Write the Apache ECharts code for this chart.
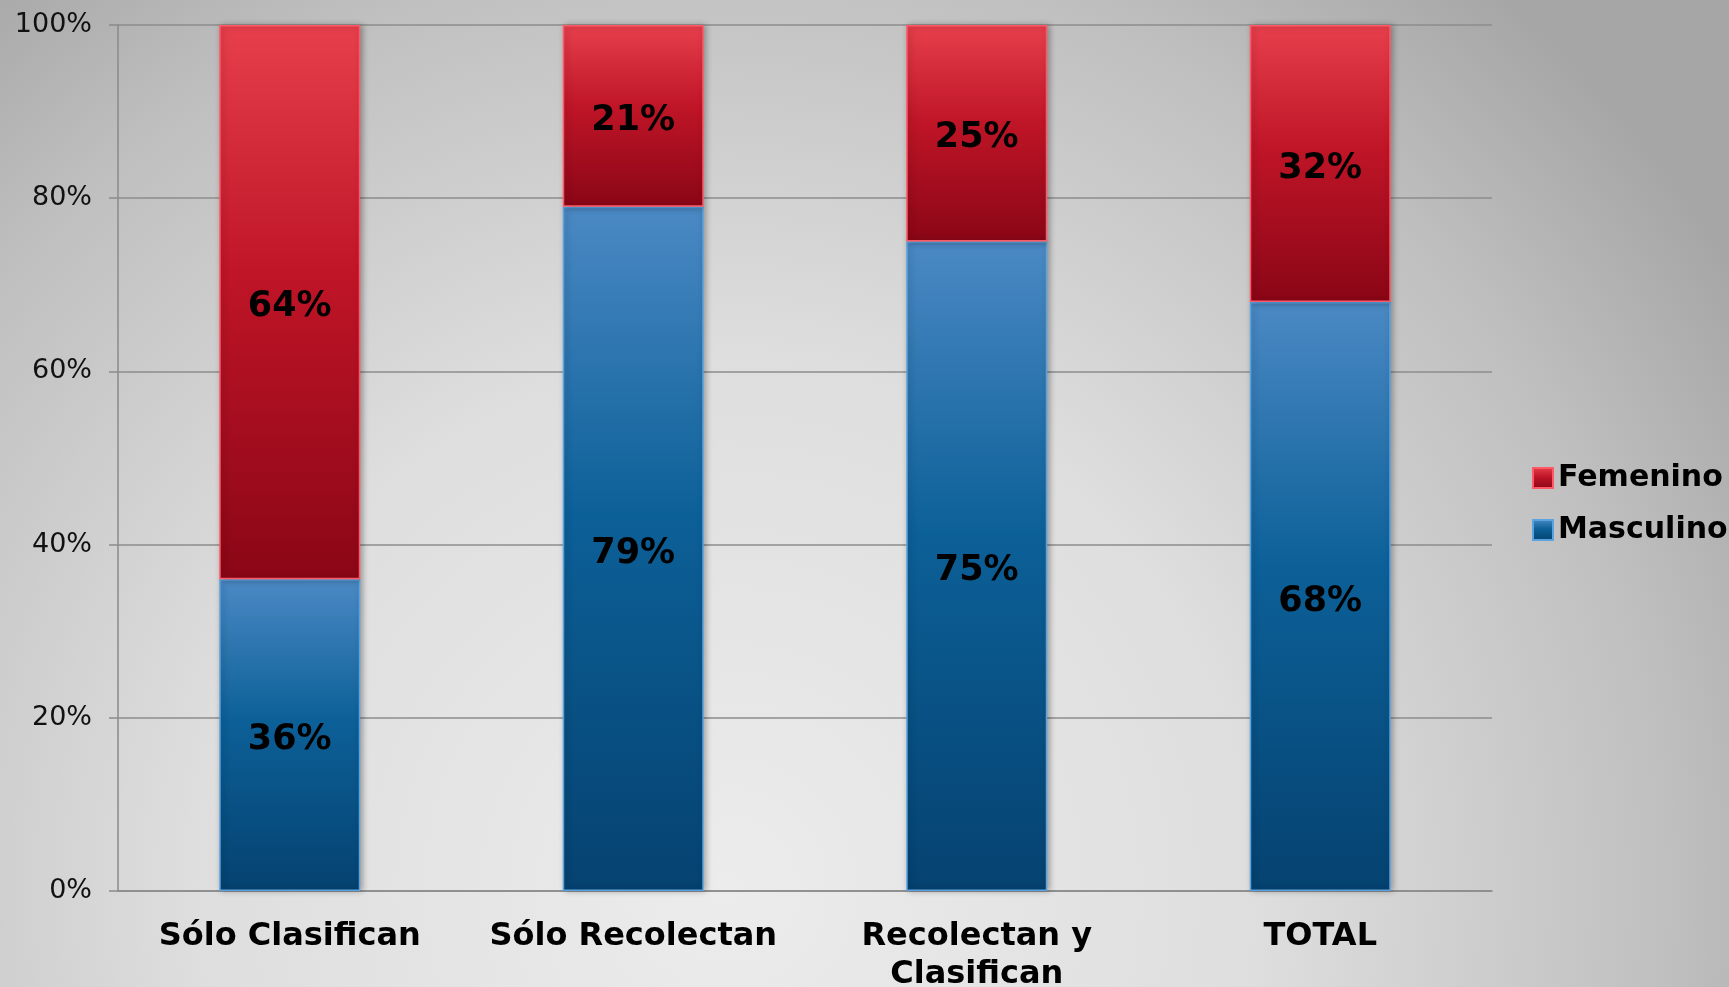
<!DOCTYPE html>
<html>
<head>
    <meta charset="utf-8">
    <title>Masculino / Femenino</title>
    <style>
        html, body { margin: 0; padding: 0; }
    </style>
</head>
<body>

    <div id="main" style="width: 1729px; height: 987px;"></div>
    <script src="https://cdn.jsdelivr.net/npm/echarts@6/dist/echarts.min.js"></script>
    <script type="text/javascript">
        var categorias = ['Sólo Clasifican', 'Sólo Recolectan', 'Recolectan y\nClasifican', 'TOTAL'];
        var masculino = [36, 79, 75, 68];
        var femenino = [64, 21, 25, 32];
        var ticksY = [0, 20, 40, 60, 80, 100];

        var chartDom = document.getElementById('main');
        var myChart = echarts.init(chartDom);

        function degradado(c) {
            return new echarts.graphic.LinearGradient(0, 0, 0, 1, [
                { offset: 0, color: c[0] },
                { offset: 0.45, color: c[1] },
                { offset: 1, color: c[2] }
            ]);
        }

        var etiqueta = {
            show: true,
            position: 'inside',
            offset: [0, 5],
            formatter: '{c}%',
            color: '#000',
            fontFamily: 'DejaVu Sans',
            fontWeight: 'bold',
            fontSize: 35
        };

        var option = {
            backgroundColor: {
                type: 'radial',
                x: 0.42, y: 0.9, r: 1.2,
                colorStops: [
                    { offset: 0, color: '#ececec' },
                    { offset: 0.45, color: '#dedede' },
                    { offset: 0.8, color: '#bfbfbf' },
                    { offset: 1, color: '#a6a6a6' }
                ]
            },
            animation: false,
            grid: { left: 118, right: 237, top: 25, bottom: 96, outerBoundsMode: 'none', containLabel: false },
            legend: {
                orient: 'vertical',
                left: 1527,
                top: 458,
                icon: 'rect',
                itemWidth: 20,
                itemHeight: 20,
                itemGap: 22,
                data: ['Femenino', 'Masculino'],
                textStyle: {
                    fontFamily: 'DejaVu Sans',
                    fontWeight: 'bold',
                    fontSize: 30,
                    lineHeight: 30,
                    color: '#000'
                }
            },
            xAxis: {
                type: 'category',
                data: categorias,
                axisLine: { lineStyle: { color: '#8a8a8a', width: 1.5 } },
                axisTick: { length: 10, lineStyle: { color: '#8a8a8a', width: 1.5 } },
                axisLabel: {
                    interval: 0,
                    margin: 27,
                    color: '#000',
                    fontFamily: 'DejaVu Sans',
                    fontWeight: 'bold',
                    fontSize: 32,
                    lineHeight: 38
                }
            },
            yAxis: {
                type: 'value',
                min: ticksY[0],
                max: ticksY[ticksY.length - 1],
                interval: 20,
                axisLine: { show: true, lineStyle: { color: '#8a8a8a', width: 1.5 } },
                axisTick: { show: true, length: 9, lineStyle: { color: '#8a8a8a', width: 1.5 } },
                splitLine: { lineStyle: { color: '#8c8c8c', width: 1.5 } },
                axisLabel: {
                    margin: 26,
                    padding: [4, 0, 0, 0],
                    formatter: '{value}%',
                    color: '#111',
                    fontFamily: 'DejaVu Sans',
                    fontSize: 27
                }
            },
            series: [
                {
                    name: 'Masculino',
                    type: 'bar',
                    stack: 'total',
                    barWidth: 141,
                    data: masculino,
                    label: etiqueta,
                    itemStyle: {
                        color: degradado(['#4b89c4', '#0c6098', '#054270']),
                        borderColor: '#5aa3e0',
                        borderWidth: 1.5,
                        shadowColor: 'rgba(0,0,0,0.3)',
                        shadowBlur: 6,
                        shadowOffsetX: 2
                    }
                },
                {
                    name: 'Femenino',
                    type: 'bar',
                    stack: 'total',
                    barWidth: 141,
                    data: femenino,
                    label: etiqueta,
                    itemStyle: {
                        color: degradado(['#e73f4c', '#bf1527', '#8a0616']),
                        borderColor: '#ff5866',
                        borderWidth: 1.5,
                        shadowColor: 'rgba(0,0,0,0.3)',
                        shadowBlur: 6,
                        shadowOffsetX: 2
                    }
                }
            ]
        };

        myChart.setOption(option);
    </script>
</body>
</html>
